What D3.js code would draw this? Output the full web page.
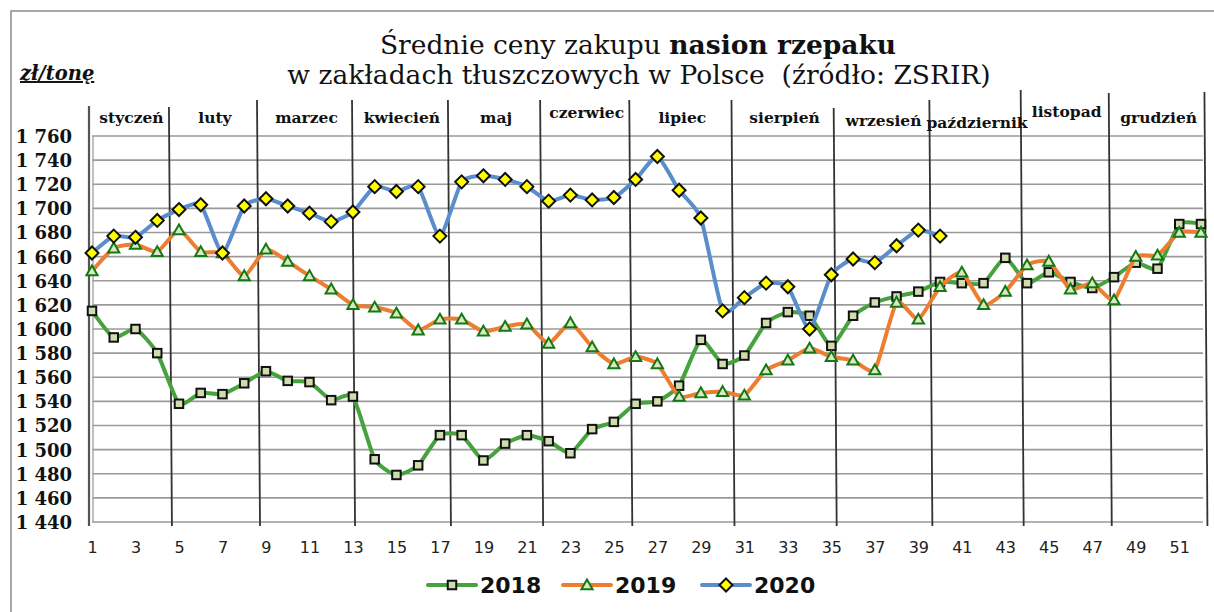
<!DOCTYPE html>
<html>
<head>
<meta charset="utf-8">
<script src="https://cdn.jsdelivr.net/npm/d3@7/dist/d3.min.js"></script>
<style>
  html, body { margin: 0; padding: 0; background: #fff; }
  svg { display: block; }
</style>
</head>
<body>
<div id="chart"></div>
<script>
// Średnie ceny zakupu nasion rzepaku — tygodnie 1..52
const weeks = d3.range(1, 53);
const xTickLabels = d3.range(1, 53, 2);
const yTicks = d3.range(1440, 1761, 20);

const prices2018 = [
  1615, 1593, 1600, 1580, 1538, 1547, 1546, 1555, 1565, 1557,
  1556, 1541, 1544, 1492, 1479, 1487, 1512, 1512, 1491, 1505,
  1512, 1507, 1497, 1517, 1523, 1538, 1540, 1553, 1591, 1571,
  1578, 1605, 1614, 1611, 1586, 1611, 1622, 1627, 1631, 1639,
  1638, 1638, 1659, 1638, 1647, 1639, 1634, 1643, 1655, 1650,
  1687, 1687
];
const prices2019 = [
  1648, 1667, 1670, 1664, 1682, 1664, 1663, 1644, 1666, 1656,
  1644, 1633, 1620, 1618, 1613, 1599, 1608, 1608, 1598, 1602,
  1604, 1588, 1605, 1585, 1571, 1577, 1571, 1544, 1547, 1548,
  1545, 1566, 1574, 1584, 1577, 1574, 1566, 1622, 1608, 1635,
  1647, 1620, 1631, 1653, 1656, 1633, 1638, 1624, 1660, 1661,
  1680, 1680
];
const prices2020 = [
  1663, 1677, 1676, 1690, 1699, 1703, 1663, 1702, 1708, 1702,
  1696, 1689, 1697, 1718, 1714, 1718, 1677, 1722, 1727, 1724,
  1718, 1706, 1711, 1707, 1709, 1724, 1743, 1715, 1692, 1615,
  1626, 1638, 1635, 1600, 1645, 1658, 1655, 1669, 1682, 1677
];

const months = ['styczeń', 'luty', 'marzec', 'kwiecień', 'maj', 'czerwiec',
  'lipiec', 'sierpień', 'wrzesień', 'październik', 'listopad', 'grudzień'];
// granice miesięcy w jednostkach tygodnia (ręcznie rysowane kreski)
const monthBounds = [1, 4.63, 8.68, 13.05, 17.46, 21.7, 25.8, 30.5, 35.2, 39.6, 43.8, 47.85, 52.25];

// wygląd — osobno od danych
const boundTops = [106, 107, 100, 100, 100, 100, 100, 100, 108, 100, 90, 93, 92];
const labelDy = [0, 0, 0, 0, 0, -5, 0, 0, 3, 5, -6, 0];

const W = 1214, H = 612;
const M = { left: 92, right: 1201, top: 136, bottom: 522 };

const SERIES = [
  { name: '2018', values: prices2018, color: '#45a23c', marker: 'square' },
  { name: '2019', values: prices2019, color: '#ed7d31', marker: 'triangle' },
  { name: '2020', values: prices2020, color: '#5b8dcc', marker: 'diamond' },
];

const svg = d3.select('#chart').append('svg')
  .attr('width', W).attr('height', H)
  .attr('viewBox', `0 0 ${W} ${H}`);

// ramka
svg.append('rect')
  .attr('x', 11).attr('y', 11).attr('width', W + 20).attr('height', H + 20)
  .attr('fill', '#fff').attr('stroke', '#8c8c8c').attr('stroke-width', 1.5);

const x = d3.scaleLinear().domain([1, 52]).range([M.left, M.right]);
const y = d3.scaleLinear().domain([1440, 1760]).range([M.bottom, M.top]);

const pl = d3.formatLocale({ decimal: ',', thousands: ' ', grouping: [3], currency: ['', ' zł'] });
const fmt = pl.format(',');

// siatka pozioma
const grid = svg.append('g').attr('class', 'grid');
grid.selectAll('line').data(yTicks).join('line')
  .attr('x1', M.left).attr('x2', M.right + 2)
  .attr('y1', d => y(d)).attr('y2', d => y(d))
  .attr('stroke', '#9a9a9a').attr('stroke-width', 1.6);

// oś Y
const yAxis = svg.append('g')
  .attr('transform', `translate(${M.left - 20},0)`)
  .call(d3.axisLeft(y).tickValues(yTicks).tickFormat(fmt).tickSize(0).tickPadding(0));
yAxis.select('.domain').remove();
yAxis.selectAll('text')
  .attr('font-family', '"DejaVu Serif", serif')
  .attr('font-weight', 'bold')
  .attr('font-size', 18)
  .attr('fill', '#111')
  .attr('dy', '0.36em');

// oś X
const xAxis = svg.append('g')
  .attr('transform', `translate(0,${M.bottom})`)
  .call(d3.axisBottom(x).tickValues(xTickLabels).tickFormat(d3.format('d')).tickSize(0).tickPadding(20));
xAxis.select('.domain').remove();
xAxis.selectAll('text')
  .attr('font-family', '"DejaVu Sans", sans-serif')
  .attr('font-size', 16)
  .attr('fill', '#222');

// lewa oś (podwójna kreska)
svg.append('line')
  .attr('x1', M.left - 3).attr('x2', M.left - 3)
  .attr('y1', M.top - 30).attr('y2', M.bottom + 4)
  .attr('stroke', '#555').attr('stroke-width', 2.2);
svg.append('line')
  .attr('x1', M.left + 1).attr('x2', M.left + 1)
  .attr('y1', M.top).attr('y2', M.bottom)
  .attr('stroke', '#aaa').attr('stroke-width', 1.5);

// kreski miesięcy i etykiety
const mg = svg.append('g').attr('class', 'months');
monthBounds.slice(1).forEach((b, i) => {
  const top = boundTops[i + 1];
  mg.append('line')
    .attr('x1', x(b) - 2).attr('x2', x(b) + 1)
    .attr('y1', top).attr('y2', M.bottom + 4)
    .attr('stroke', '#333').attr('stroke-width', 1.8);
});
months.forEach((m, i) => {
  const cx = (x(monthBounds[i]) + x(monthBounds[i + 1])) / 2;
  mg.append('text')
    .attr('x', cx).attr('y', 118 + labelDy[i])
    .attr('dy', '0.35em')
    .attr('text-anchor', 'middle')
    .attr('font-family', '"DejaVu Serif", serif')
    .attr('font-weight', 'bold')
    .attr('font-size', 15.5)
    .attr('fill', '#111')
    .text(m);
});

// tytuł
const title = svg.append('text')
  .attr('x', 638).attr('y', 54)
  .attr('text-anchor', 'middle')
  .attr('font-family', '"DejaVu Serif", serif')
  .attr('font-size', 26.5)
  .attr('fill', '#111');
title.append('tspan').text('Średnie ceny zakupu ');
title.append('tspan').attr('font-weight', 'bold').text('nasion rzepaku');
svg.append('text')
  .attr('x', 639).attr('y', 84)
  .attr('text-anchor', 'middle')
  .attr('font-family', '"DejaVu Serif", serif')
  .attr('font-size', 26.5)
  .attr('fill', '#111')
  .attr('xml:space', 'preserve')
  .text('w zakładach tłuszczowych w Polsce  (źródło: ZSRIR)');

svg.append('text')
  .attr('x', 20).attr('y', 80)
  .attr('font-family', '"DejaVu Serif", serif')
  .attr('font-weight', 'bold')
  .attr('font-style', 'italic')
  .attr('font-size', 19.5)
  .attr('text-decoration', 'underline')
  .attr('fill', '#111')
  .text('zł/tonę');

// markery
function drawMarker(g, type, cx, cy, scale = 1) {
  if (type === 'square') {
    const s = 8.5 * scale;
    g.append('rect')
      .attr('x', cx - s / 2).attr('y', cy - s / 2).attr('width', s).attr('height', s)
      .attr('fill', '#cfdcae').attr('stroke', '#111').attr('stroke-width', 2);
  } else if (type === 'triangle') {
    const s = 5.6 * scale;
    g.append('path')
      .attr('d', `M${cx},${cy - s}L${cx + s},${cy + s * 0.75}L${cx - s},${cy + s * 0.75}Z`)
      .attr('fill', '#dce8c4').attr('stroke', '#137a13').attr('stroke-width', 2);
  } else {
    const s = 6.5 * scale;
    g.append('path')
      .attr('d', `M${cx},${cy - s}L${cx + s},${cy}L${cx},${cy + s}L${cx - s},${cy}Z`)
      .attr('fill', '#ffff00').attr('stroke', '#111').attr('stroke-width', 2);
  }
}

const line = d3.line()
  .x((d, i) => x(weeks[i]))
  .y(d => y(d))
  .curve(d3.curveCardinal.tension(0.45));

SERIES.forEach(s => {
  const g = svg.append('g').attr('class', `series-${s.name}`);
  g.append('path')
    .attr('d', line(s.values))
    .attr('fill', 'none')
    .attr('stroke', s.color)
    .attr('stroke-width', 4)
    .attr('stroke-linejoin', 'round')
    .attr('stroke-linecap', 'round');
  s.values.forEach((v, i) => drawMarker(g, s.marker, x(weeks[i]), y(v)));
});

// legenda
const legendX = [428, 563, 702];
const lg = svg.append('g').attr('class', 'legend');
SERIES.forEach((s, i) => {
  const lx = legendX[i], ly = 585;
  lg.append('line')
    .attr('x1', lx).attr('x2', lx + 48).attr('y1', ly).attr('y2', ly)
    .attr('stroke', s.color).attr('stroke-width', 4).attr('stroke-linecap', 'round');
  drawMarker(lg, s.marker, lx + 24, ly);
  lg.append('text')
    .attr('x', lx + 52).attr('y', ly).attr('dy', '0.36em')
    .attr('font-family', '"DejaVu Sans", sans-serif')
    .attr('font-weight', 'bold')
    .attr('font-size', 22)
    .attr('fill', '#111')
    .text(s.name);
});
</script>
</body>
</html>
